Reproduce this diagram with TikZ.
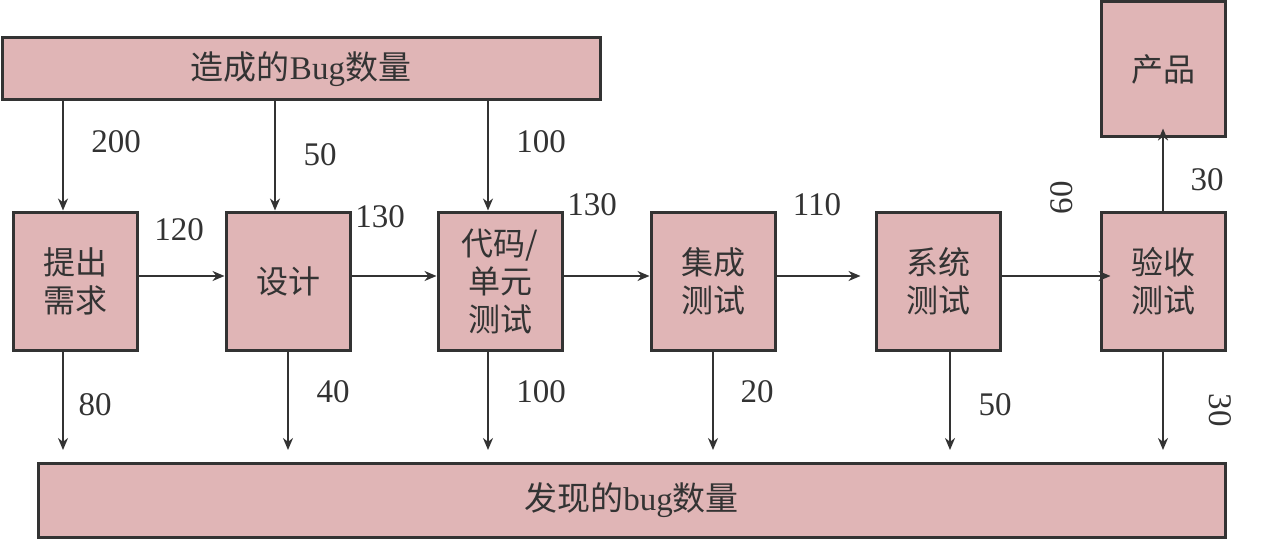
\documentclass[tikz,border=0pt]{standalone}
\usepackage{fontspec}
\setmainfont{Liberation Serif}
\newfontfamily\cjk{Noto Sans CJK SC}
\usetikzlibrary{arrows.meta, positioning}
\definecolor{boxfill}{HTML}{E0B5B6}
\definecolor{ink}{HTML}{333333}

\begin{document}
\begin{tikzpicture}[x=0.5pt, y=0.5pt,
  font=\fontsize{16.5}{19}\selectfont, text=ink,
  stage/.style={draw=ink, line width=1.5pt, fill=boxfill, minimum width=62pt,
    minimum height=69pt, inner sep=0pt, align=center,
    font=\cjk\fontsize{16}{19}\selectfont},
  wide/.style={draw=ink, line width=1.5pt, fill=boxfill, inner sep=0pt},
  flow/.style={draw=ink, line width=1pt, -{Stealth[length=6pt, width=5pt]}},
  num/.style={font=\fontsize{16.5}{19}\selectfont}]
  \useasboundingbox (0,0) rectangle (1263,542);
  % bug totals
  \node[wide, minimum width=299pt, minimum height=31pt] (made) at (301,473) {{\cjk 造成的}Bug{\cjk 数量}};
  \node[wide, minimum width=593.5pt, minimum height=37pt] (found) at (631.5,42) {{\cjk 发现的}bug{\cjk 数量}};
  % stages
  \node[stage] (req) at (75,261) {提出\\需求};
  \node[stage] (des) at (288,261) {设计};
  \node[stage] (code) at (500,261) {代码/\\单元\\测试};
  \node[stage] (int) at (713,261) {集成\\测试};
  \node[stage] (sys) at (938,261) {系统\\测试};
  \node[stage] (acc) at (1163,261) {验收\\测试};
  \node[stage, minimum height=67.5pt] (prod) at (1163,472.5) {产品};
  \coordinate (sinkline) at (0,92);
  % bugs made in each stage
  \draw[flow] ([xshift=-6pt]req.north |- made.south) -- ([xshift=-6pt]req.north);
  \draw[flow] ([xshift=-6.5pt]des.north |- made.south) -- ([xshift=-6.5pt]des.north);
  \draw[flow] ([xshift=-6pt]code.north |- made.south) -- ([xshift=-6pt]code.north);
  % stage to stage
  \draw[flow] ([yshift=2.5pt]req.east) -- ([yshift=2.5pt]des.west);
  \draw[flow] ([yshift=2.5pt]des.east) -- ([yshift=2.5pt]code.west);
  \draw[flow] ([yshift=2.5pt]code.east) -- ([yshift=2.5pt]int.west);
  \draw[flow] ([yshift=2.5pt]int.east) -- ([xshift=-7pt, yshift=2.5pt]sys.west);
  \draw[flow] ([yshift=2.5pt]sys.east) -- ([xshift=5.5pt, yshift=2.5pt]acc.west);
  \draw[flow] (acc.north) -- ([yshift=5pt]prod.south);
  % bugs found in each stage
  \draw[flow] ([xshift=-6pt]req.south) -- ([xshift=-6pt]req.south |- sinkline);
  \draw[flow] (des.south) -- (des.south |- sinkline);
  \draw[flow] ([xshift=-6pt]code.south) -- ([xshift=-6pt]code.south |- sinkline);
  \draw[flow] (int.south) -- (int.south |- sinkline);
  \draw[flow] ([xshift=6pt]sys.south) -- ([xshift=6pt]sys.south |- sinkline);
  \draw[flow] (acc.south) -- (acc.south |- sinkline);
  % counts
  \node[num] (in1) at (116,400) {200};
  \node[num] (in2) at (320,387) {50};
  \node[num] (in3) at (541,400) {100};
  \node[num] (pass1) at (179,312) {120};
  \node[num] (pass2) at (380,325) {130};
  \node[num] (pass3) at (592,337) {130};
  \node[num] (pass4) at (817,337) {110};
  \node[num, rotate=90] (pass5) at (1062,344) {60};
  \node[num] (pass6) at (1207,362) {30};
  \node[num] (out1) at (95,137) {80};
  \node[num] (out2) at (333,150) {40};
  \node[num] (out3) at (541,150) {100};
  \node[num] (out4) at (757,150) {20};
  \node[num] (out5) at (995,137) {50};
  \node[num, rotate=-90] (out6) at (1220,132) {30};
\end{tikzpicture}
\end{document}
